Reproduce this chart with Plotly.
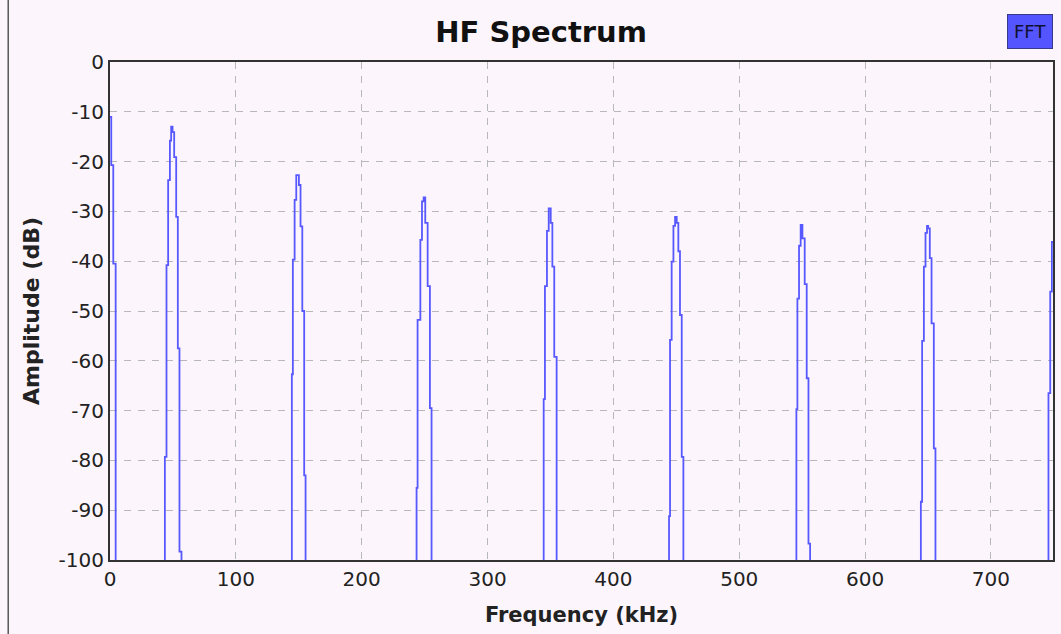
import plotly.graph_objects as go

# ---- data (kHz, dB); -120 = below the -100 dB display floor ----
freq_khz = [
    0.0, 1.0, 2.6, 4.5,
    43.6, 44.9, 46.2, 47.6, 48.6, 49.7, 51.0, 52.6, 53.9, 55.2, 56.8,
    144.5, 145.3, 146.7, 148.0, 150.1, 151.4, 152.8, 154.3, 155.4,
    243.6, 244.4, 246.6, 247.9, 249.2, 250.5, 252.4, 254.2, 255.5,
    344.6, 345.6, 347.2, 348.6, 350.2, 351.5, 353.0, 354.9,
    444.2, 445.0, 446.3, 447.7, 449.0, 450.3, 451.6, 452.9, 454.3, 455.6,
    545.4, 546.2, 547.5, 548.8, 550.2, 552.0, 553.6, 555.0, 556.3,
    644.3, 645.3, 646.7, 648.0, 649.2, 650.1, 651.4, 652.8, 654.6, 655.9,
    745.7, 747.1, 748.4, 749.3,
]
amp_db = [
    -11.0, -20.7, -40.5, -120,
    -79.3, -40.8, -23.7, -15.8, -13.0, -14.1, -19.1, -31.1, -57.5, -98.3, -120,
    -62.7, -39.7, -27.7, -22.7, -24.7, -33.0, -50.0, -83.0, -120,
    -85.5, -51.8, -35.7, -28.0, -27.2, -32.3, -45.0, -69.5, -120,
    -67.7, -45.0, -33.9, -29.4, -32.3, -41.1, -59.2, -120,
    -91.2, -55.8, -40.1, -32.9, -31.1, -32.3, -38.0, -50.8, -79.3, -120,
    -69.7, -47.5, -36.9, -32.7, -35.4, -44.6, -63.5, -96.7, -120,
    -88.3, -56.0, -41.1, -34.3, -32.9, -33.4, -39.4, -52.5, -77.6, -120,
    -66.5, -46.1, -36.1, -36.1,
]
x_ticks = [0, 100, 200, 300, 400, 500, 600, 700]
y_ticks = [0, -10, -20, -30, -40, -50, -60, -70, -80, -90, -100]

BG = "#fcf6fc"
FONT = "DejaVu Sans"

fig = go.Figure()
fig.add_trace(go.Scatter(
    x=freq_khz, y=amp_db, mode="lines", name="FFT",
    line=dict(color="#5858ff", width=1.8, shape="hv"),
    showlegend=False,
))

W, H = 1061, 634
ML, MR, MT, MB = 110, 6, 62, 74
pw, ph = W - ML - MR, H - MT - MB

fig.update_layout(
    width=W, height=H,
    margin=dict(l=ML, r=MR, t=MT, b=MB, pad=0),
    paper_bgcolor=BG, plot_bgcolor=BG,
    font=dict(family=FONT, size=20, color="#222222"),
    title=dict(text="<b>HF Spectrum</b>", x=0.51, xanchor="center",
               y=1 - 32 / H, yanchor="middle",
               font=dict(family=FONT, size=29, color="#111111")),
    xaxis=dict(
        range=[0, 749.3], tickvals=x_ticks, ticktext=[str(v) for v in x_ticks],
        showgrid=True, gridcolor="#b8b8b8", gridwidth=1.3, griddash="7px,7px",
        zeroline=False, showline=True, linecolor="#333333", linewidth=2, mirror=True,
        ticks="", tickfont=dict(size=20, color="#222222"),
        title=dict(text="<b>Frequency (kHz)</b>", font=dict(size=21, color="#222222"),
                   standoff=17),
    ),
    yaxis=dict(
        range=[-100, 0], tickvals=y_ticks, ticktext=[str(v) for v in y_ticks],
        showgrid=True, gridcolor="#b8b8b8", gridwidth=1.3, griddash="7px,7px",
        zeroline=False, showline=True, linecolor="#333333", linewidth=2, mirror=True,
        ticks="", tickfont=dict(size=20, color="#222222"),
        title=dict(text="<b>Amplitude (dB)</b>", font=dict(size=22, color="#222222"),
                   standoff=13),
    ),
)

# legend box "FFT"
fig.add_annotation(
    xref="paper", yref="paper",
    x=(1032 - ML) / pw, y=(H - MB - 31.5) / ph,
    text="FFT", showarrow=False, xanchor="center", yanchor="middle",
    font=dict(family=FONT, size=18, color="#101030"),
    bgcolor="#5555ff", bordercolor="#3a3a8a", borderwidth=1, borderpad=6,
)

# window frame line on the left edge
fig.add_shape(
    type="line", xref="paper", yref="paper",
    x0=(8 - ML) / pw, x1=(8 - ML) / pw,
    y0=(H - MB - H) / ph, y1=(H - MB) / ph,
    line=dict(color="#555555", width=1.5),
)

fig.write_html("out.html")
